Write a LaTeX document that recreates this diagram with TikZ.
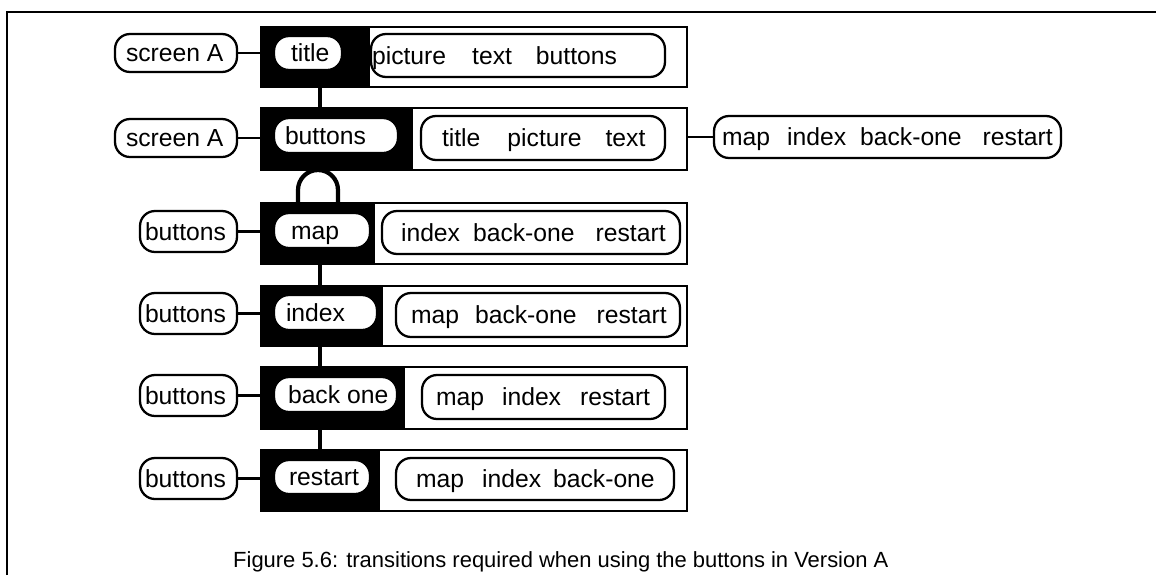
\documentclass[tikz,border=0pt]{standalone}
\usepackage{fontspec}
\setmainfont{Liberation Sans}
\newlength\pxu
\setlength\pxu{0.02cm}
\newcommand\pillfont{\fontsize{14.06}{16}\selectfont}
\newcommand\capfont{\fontsize{12.5}{15}\selectfont}
\newcommand\lbox[2]{\makebox[#1cm][l]{#2}}
\tikzset{
  pill/.style 2 args={draw, line width=1.3pt, rounded corners=0.3cm, fill=white,
    inner sep=0pt, minimum width=#1cm, minimum height=#2cm, font=\pillfont,
    text height=13pt, text depth=2.8pt},
  scrbox/.style={draw, line width=1.5pt, fill=white, inner sep=0pt, outer sep=0pt,
    minimum width=8.52cm, minimum height=#1cm},
  link/.style={line width=1.3pt},
  trunkline/.style={line width=2.4pt},
  frameline/.style={line width=1.1pt}
}

\begin{document}
\begin{tikzpicture}[x=0.02cm,y=-0.02cm]
\useasboundingbox (0,0) rectangle (1156,575);
\draw[frameline] (7,575) -- (7,12) -- (1156,12);

% screens
\node[scrbox=1.2]  (box1) at (474,57) {};
\node[scrbox=1.24] (box2) at (474,139) {};
\node[scrbox=1.22] (box3) at (474,233.5) {};
\node[scrbox=1.2]  (box4) at (474,316) {};
\node[scrbox=1.24] (box5) at (474,398) {};
\node[scrbox=1.22] (box6) at (474,480.5) {};

\foreach \n/\w in {1/2.18, 2/3.04, 3/2.28, 4/2.44, 5/2.88, 6/2.38}{
  \fill (box\n.north west) rectangle ([xshift=\w cm]box\n.south west);
}

% row 1
\node[pill={2.44}{0.76}] (scrA1) at (176,53) {\lbox{2.44}{\hspace*{11\pxu}screen A}};
\node[pill={1.36}{0.68}] (ttl1) at (308,53) {\lbox{1.36}{\hspace*{17\pxu}title}};
\node[pill={5.88}{0.86}] (rest1) at (518,55.5)
  {\lbox{5.88}{\hspace*{1\pxu}picture\hspace{26\pxu}text\hspace{24\pxu}buttons}};
\draw[link] (scrA1.east) -- (scrA1.east -| box1.west);

% row 2
\node[pill={2.44}{0.76}] (scrA2) at (176,138) {\lbox{2.44}{\hspace*{11\pxu}screen A}};
\node[pill={2.48}{0.70}] (btn2) at (336,135.5) {\lbox{2.48}{\hspace*{11\pxu}buttons}};
\node[pill={4.88}{0.88}] (rest2) at (543,138)
  {\lbox{4.88}{\hspace*{21\pxu}title\hspace{27\pxu}picture\hspace{24\pxu}text}};
\node[pill={6.94}{0.84}] (all2) at (887.5,137)
  {\lbox{6.94}{\hspace*{8\pxu}map\hspace{17\pxu}index\hspace{14\pxu}back-one\hspace{21\pxu}restart}};
\draw[link] (scrA2.east) -- (scrA2.east -| box2.west);
\draw[link] (box2.east |- all2.west) -- (all2.west);

% rows 3 to 6
\node[pill={1.92}{0.70}] (map3) at (322,230.5) {\lbox{1.92}{\hspace*{17\pxu}map}};
\node[pill={5.96}{0.86}] (rest3) at (531,232.5)
  {\lbox{5.96}{\hspace*{19\pxu}index\hspace{13\pxu}back-one\hspace{21\pxu}restart}};
\node[pill={2.06}{0.70}] (idx4) at (325.5,312.5) {\lbox{2.06}{\hspace*{12\pxu}index}};
\node[pill={5.68}{0.88}] (rest4) at (538,315)
  {\lbox{5.68}{\hspace*{15\pxu}map\hspace{16\pxu}back-one\hspace{20\pxu}restart}};
\node[pill={2.46}{0.70}] (bk5) at (335.5,394.5) {\lbox{2.46}{\hspace*{14\pxu}back one}};
\node[pill={4.86}{0.88}] (rest5) at (543.5,397)
  {\lbox{4.86}{\hspace*{14\pxu}map\hspace{18\pxu}index\hspace{19\pxu}restart}};
\node[pill={1.92}{0.68}] (rs6) at (322,477) {\lbox{1.92}{\hspace*{15\pxu}restart}};
\node[pill={5.56}{0.84}] (rest6) at (535,479)
  {\lbox{5.56}{\hspace*{20\pxu}map\hspace{18\pxu}index\hspace{12\pxu}back-one}};

\foreach \n/\yy in {3/231.5, 4/313.5, 5/395.5, 6/478.5}{
  \node[pill={1.94}{0.82}] (btn\n) at (188.5,\yy) {\lbox{1.94}{\hspace*{5\pxu}buttons}};
  \draw[link] (btn\n.east) -- (btn\n.east -| box\n.west);
}

% transitions
\coordinate (trunk) at (320,0);
\coordinate (archL) at (298,0);
\coordinate (archR) at (338,0);
\foreach \a/\b in {box1/box2, box3/box4, box4/box5, box5/box6}{
  \draw[trunkline] (\a.south -| trunk) -- (\b.north -| trunk);
}
\draw[trunkline] (box3.north -| archL) -- ++(0,-13)
  arc[start angle=180, end angle=0, radius=0.4cm] -- (box3.north -| archR);

\node[font=\capfont, anchor=base west] (cap) at (227,567)
  {Figure 5.6: transitions required when using the buttons in Version A};
\end{tikzpicture}
\end{document}
